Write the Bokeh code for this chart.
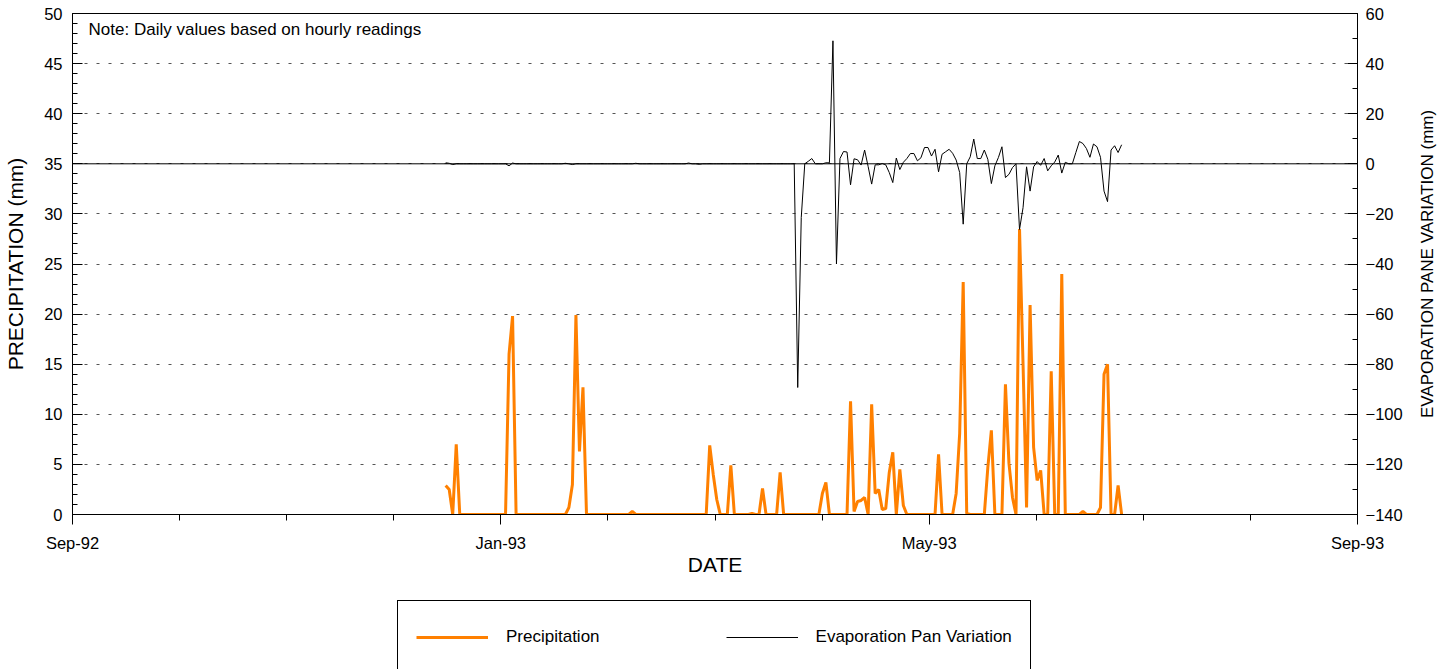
import math
import pandas as pd
from bokeh.plotting import figure
from bokeh.layouts import column, row
from bokeh.models import (Range1d, LinearAxis, FixedTicker, Span, Legend,
                          LegendItem, Label, ColumnDataSource)
from bokeh.embed import file_html
from bokeh.resources import INLINE

FONT = "Liberation Sans"

# ---------------- data ----------------
AXIS_START = "1992-09-01"          # left end of the date axis (Sep-92)
SERIES_START = "1992-12-16"        # first daily reading
x_tick_months = [0, 4, 8, 12]
x_tick_labels = ["Sep-92", "Jan-93", "May-93", "Sep-93"]
left_ticks = [0, 5, 10, 15, 20, 25, 30, 35, 40, 45, 50]
right_ticks = [-140, -120, -100, -80, -60, -40, -20, 0, 20, 40, 60]

# Precipitation (mm), daily
precip_dec = [2.9, 2.5, 0, 7.0, 0, 0, 0, 0, 0, 0, 0, 0, 0, 0, 0, 0]
precip_jan = [0, 0, 16.0, 19.8, 0, 0, 0, 0, 0, 0, 0, 0, 0, 0, 0, 0, 0, 0,
              0, 0.7, 3.0, 19.9, 6.3, 12.7, 0, 0, 0, 0, 0, 0, 0]
precip_feb = [0, 0, 0, 0, 0, 0, 0.3, 0, 0, 0, 0, 0, 0, 0, 0, 0, 0, 0, 0, 0,
              0, 0, 0, 0, 0, 0, 0, 0]
precip_mar = [6.9, 4.0, 1.5, 0, 0, 0, 4.9, 0, 0, 0, 0, 0, 0.1, 0, 0, 2.6,
              0, 0, 0, 0, 4.2, 0, 0, 0, 0, 0, 0, 0, 0, 0, 0]
precip_apr = [0, 2.1, 3.2, 0, 0, 0, 0, 0, 0, 11.3, 0.3, 1.3, 1.4, 1.7, 0,
              11.0, 2.1, 2.5, 0.5, 0.6, 4.2, 6.2, 0, 4.5, 0.9, 0, 0, 0, 0, 0]
precip_may = [0, 0, 0, 0, 6.0, 0, 0, 0, 0, 2.1, 8.1, 23.2, 0.1, 0, 0, 0, 0,
              0, 4.7, 8.4, 0, 0, 0, 13.0, 5.1, 1.7, 0, 28.5, 15.0, 0.7, 20.9]
precip_jun = [6.7, 3.4, 4.4, 0, 0, 14.3, 0, 0, 24.0, 0, 0, 0, 0, 0, 0.3, 0,
              0, 0, 0, 0.7, 14.0, 15.0, 0, 0, 2.9, 0]

# Evaporation pan variation (mm), daily
evap_dec = [0.4, 0.2, -0.3, 0, 0, 0, 0, 0, 0, 0, 0, 0, 0, 0, 0, 0]
evap_jan = [0, 0, -0.8, 0.3, 0, 0, 0, 0, 0, 0, 0, 0, 0, 0, 0, 0, 0, 0,
            0.2, 0, -0.3, 0, 0, 0, 0, 0, 0, 0, 0, 0, 0]
evap_feb = [0, 0, 0, 0, 0, 0, 0, 0.2, 0, 0, 0, 0, 0, 0, 0, 0, 0, 0, 0, 0,
            0, 0, 0.3, 0, 0, -0.2, 0, 0]
evap_mar = [0, 0, 0, 0, 0, 0, 0, 0, 0, 0, 0, 0, 0, 0, 0, 0, 0, 0, 0, 0,
            0, 0, 0, 0, 0, -89.3, -21.4, 0, 1.0, 2.1, 0]
evap_apr = [0, 0, 0.4, 0.4, 49.1, -40.0, 2.1, 4.9, 4.7, -8.4, 2.0, 1.6, -0.5,
            5.5, -1.1, -8.1, -0.4, -0.4, 0.1, -0.4, -3.5, -7.5, 2.3, -2.3,
            0.6, 2.1, 4.1, 4.1, 1.2, 2.4]
evap_may = [6.5, 6.5, 3.1, 5.8, -3.2, 3.8, 4.8, 5.8, 4.2, 1.5, -3.5, -24.1,
            0, 2.8, 9.9, 2.1, 2.1, 5.5, 1.8, -7.9, -0.8, 2.5, 6.8, -5.5, -4.2,
            -1.5, 0, -26.2, -17.5, -1.2, -10.9]
evap_jun = [-1.2, 0.9, -0.6, 2.1, -2.8, -0.8, 0.7, 3.5, -3.7, 0.6, 0, 0, 4.5,
            8.9, 8.1, 6.1, 2.6, 7.9, 6.8, 2.6, -10.9, -15.1, 5.5, 7.2, 4.5, 7.6]

precip = precip_dec + precip_jan + precip_feb + precip_mar + precip_apr + precip_may + precip_jun
evap = evap_dec + evap_jan + evap_feb + evap_mar + evap_apr + evap_may + evap_jun

dates = pd.date_range(SERIES_START, periods=len(precip), freq="D")
# axis runs in twelfths of the year (Sep-92 .. Sep-93), ticks equally spaced
xpos = [(d - pd.Timestamp(AXIS_START)).days * 12 / 365 for d in dates]

src = ColumnDataSource(dict(x=xpos, precip=precip, evap=evap))

PRECIP_COLOR = "#FF8000"
EVAP_COLOR = "black"

# ---------------- main figure ----------------
p = figure(width=1414, height=590, output_backend="svg", toolbar_location=None,
           x_range=Range1d(0, 12), y_range=Range1d(0, 50),
           min_border_left=72, min_border_right=57, min_border_top=13,
           min_border_bottom=76,
           x_axis_label="DATE", y_axis_label="PRECIPITATION (mm)")
p.extra_y_ranges = {"evap": Range1d(-140, 60)}
p.background_fill_color = "white"
p.border_fill_color = "white"
p.outline_line_color = "black"
p.outline_line_alpha = 1
p.outline_line_width = 1

p.xgrid.visible = False
p.ygrid.ticker = FixedTicker(ticks=left_ticks)
p.ygrid.grid_line_color = "#555555"
p.ygrid.grid_line_dash = "3 9"
p.ygrid.grid_line_width = 1


def style_axis(ax, title_size):
    ax.axis_line_color = "black"
    ax.major_tick_line_color = "black"
    ax.minor_tick_line_color = "black"
    ax.major_label_text_font = FONT
    ax.major_label_text_font_size = "16.5px"
    ax.major_label_text_color = "black"
    ax.axis_label_text_font = FONT
    ax.axis_label_text_font_style = "normal"
    ax.axis_label_text_font_size = title_size
    ax.axis_label_text_color = "black"


xa = p.xaxis[0]
xa.ticker = FixedTicker(ticks=x_tick_months, minor_ticks=list(range(13)))
xa.major_label_overrides = {m: lab for m, lab in zip(x_tick_months, x_tick_labels)}
style_axis(xa, "21px")
xa.major_tick_out = 10
xa.major_tick_in = 0
xa.minor_tick_out = 6
xa.minor_tick_in = 0
xa.major_label_standoff = 9
xa.axis_label_standoff = -2

ya = p.yaxis[0]
ya.ticker = FixedTicker(ticks=left_ticks, minor_ticks=list(range(51)))
style_axis(ya, "21px")
ya.major_tick_in = 10
ya.major_tick_out = 0
ya.minor_tick_in = 5
ya.minor_tick_out = 0
ya.major_label_standoff = 10
ya.axis_label_standoff = 14

ra = LinearAxis(y_range_name="evap",
                ticker=FixedTicker(ticks=right_ticks,
                                   minor_ticks=list(range(-140, 61, 10))))
style_axis(ra, "17px")
ra.major_tick_in = 10
ra.major_tick_out = 0
ra.minor_tick_in = 5
ra.minor_tick_out = 0
ra.major_label_standoff = 8
p.add_layout(ra, "right")

r_p = p.line("x", "precip", source=src, line_color=PRECIP_COLOR, line_width=3)
p.add_layout(Span(location=0, dimension="width", y_range_name="evap",
                  line_color="black", line_width=1))
r_e = p.line("x", "evap", source=src, y_range_name="evap",
             line_color=EVAP_COLOR, line_width=1)

p.add_layout(Label(x=0.15, y=48.4, text="Note: Daily values based on hourly readings",
                   text_font=FONT, text_font_size="17px", text_color="black",
                   text_baseline="middle"))

# ---------------- right-hand axis title (reads bottom to top) ----------------
tf = figure(width=32, height=590, output_backend="svg", toolbar_location=None,
            x_range=Range1d(0, 32), y_range=Range1d(0, 1),
            x_axis_location=None, y_axis_location=None,
            min_border_left=0, min_border_right=0, min_border_top=13,
            min_border_bottom=76)
tf.outline_line_color = None
tf.grid.visible = False
tf.background_fill_color = "white"
tf.border_fill_color = "white"
tf.add_layout(Label(x=13, y=0.5, angle=math.pi / 2,
                    text="EVAPORATION PANE VARIATION (mm)",
                    text_font=FONT, text_font_size="17px", text_color="black",
                    text_align="center", text_baseline="middle"))

# ---------------- legend strip below the chart ----------------
lf = figure(width=1446, height=79, output_backend="svg", toolbar_location=None,
            x_range=Range1d(0, 1), y_range=Range1d(0, 1),
            x_axis_location=None, y_axis_location=None,
            min_border_left=72, min_border_right=89, min_border_top=0,
            min_border_bottom=0)
lf.outline_line_color = None
lf.grid.visible = False
lf.background_fill_color = "white"
lf.border_fill_color = "white"
# legend-only renderers: their points lie outside the strip's ranges
key_src = ColumnDataSource(dict(x=[-10, -9], y=[-10, -10]))
lg_p = lf.line("x", "y", source=key_src, line_color=PRECIP_COLOR, line_width=3)
lg_e = lf.line("x", "y", source=key_src, line_color=EVAP_COLOR, line_width=1)

legend = Legend(items=[LegendItem(label="Precipitation", renderers=[lg_p]),
                       LegendItem(label="Evaporation Pan Variation", renderers=[lg_e])],
                orientation="horizontal", location=(325, -5), padding=18,
                spacing=126, glyph_width=72, glyph_height=36, label_standoff=18,
                label_text_font=FONT, label_text_font_size="17px",
                label_text_color="black", border_line_color="black",
                border_line_width=1, border_line_alpha=1,
                background_fill_color="white", background_fill_alpha=1, margin=0)
lf.add_layout(legend, "center")

layout = column(row(p, tf, spacing=0), lf, spacing=0)
open("out.html", "w").write(file_html(layout, INLINE))
